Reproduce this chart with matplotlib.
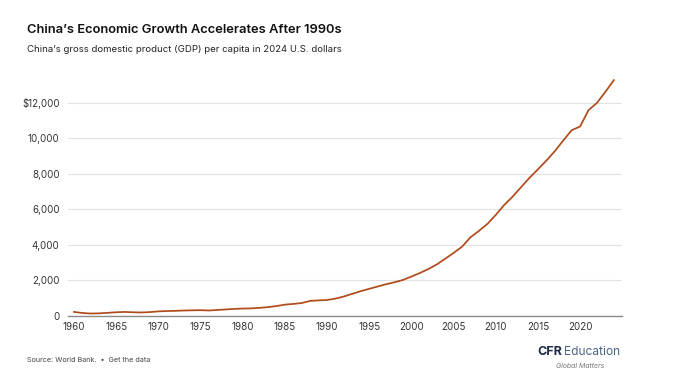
import matplotlib
matplotlib.use('Agg')
import matplotlib.pyplot as plt
from matplotlib.ticker import FuncFormatter

plt.rcParams['font.family'] = ['Inter', 'DejaVu Sans']

years = list(range(1960, 2025))
gdp_per_capita = [
    230, 170, 140, 150, 180, 210, 230, 210, 200, 220,
    260, 280, 290, 310, 320, 330, 310, 340, 370, 400,
    420, 430, 460, 500, 560, 640, 680, 730, 850, 880,
    900, 980, 1100, 1250, 1400, 1530, 1660, 1790, 1900, 2030,
    2220, 2420, 2640, 2900, 3220, 3550, 3900, 4430, 4790, 5180,
    5690, 6250, 6720, 7250, 7780, 8260, 8750, 9280, 9880, 10460,
    10670, 11590, 12000, 12620, 13280,
]
y_ticks = [0, 2000, 4000, 6000, 8000, 10000, 12000]
x_ticks = [1960, 1965, 1970, 1975, 1980, 1985, 1990, 1995, 2000, 2005, 2010, 2015, 2020]

fig = plt.figure(figsize=(6.73, 3.8), dpi=100)
ax = fig.add_axes([0.101, 0.1684, 0.823, 0.631])

ax.plot(years, gdp_per_capita, color='#b04a1a', lw=1.25, solid_joinstyle='round')

ax.set_xlim(1959.29, 2024.95)
ax.set_ylim(0, 13500)
ax.set_yticks(y_ticks)
ax.set_xticks(x_ticks)

def fmt(v, pos):
    s = f'{int(v):,}'
    return '$' + s if v == 12000 else s

ax.yaxis.set_major_formatter(FuncFormatter(fmt))
ax.grid(axis='y', color='#e2e2e2', lw=0.8)
ax.set_axisbelow(True)
for s in ['top', 'right', 'left']:
    ax.spines[s].set_visible(False)
ax.spines['bottom'].set_color('#8a8a8a')
ax.spines['bottom'].set_linewidth(1.0)
ax.tick_params(axis='y', length=0, pad=6, labelsize=7, labelcolor='#333333')
ax.tick_params(axis='x', length=0, pad=4, labelsize=7, labelcolor='#333333')

fig.text(27 / 673, 1 - 30 / 380, "China\u2019s Economic Growth Accelerates After 1990s",
         fontsize=9.3, fontweight='semibold', color='#111111', va='center')
fig.text(27 / 673, 1 - 50 / 380, "China\u2019s gross domestic product (GDP) per capita in 2024 U.S. dollars",
         fontsize=6.9, color='#222222', va='center')

fig.text(27 / 673, 1 - 360 / 380, "Source: World Bank.  \u2022  Get the data",
         fontsize=5.2, color='#444444', va='center')

fig.text(537 / 673, 1 - 352 / 380, "CFR", fontsize=9, fontweight='bold',
         color='#1c2a44', va='center')
fig.text(564 / 673, 1 - 352 / 380, "Education", fontsize=8.6,
         color='#4a6585', va='center')
fig.text(580 / 673, 1 - 366 / 380, "Global Matters", fontsize=5, style='italic',
         color='#777777', va='center', ha='center')

fig.savefig('out.png', dpi=100)
